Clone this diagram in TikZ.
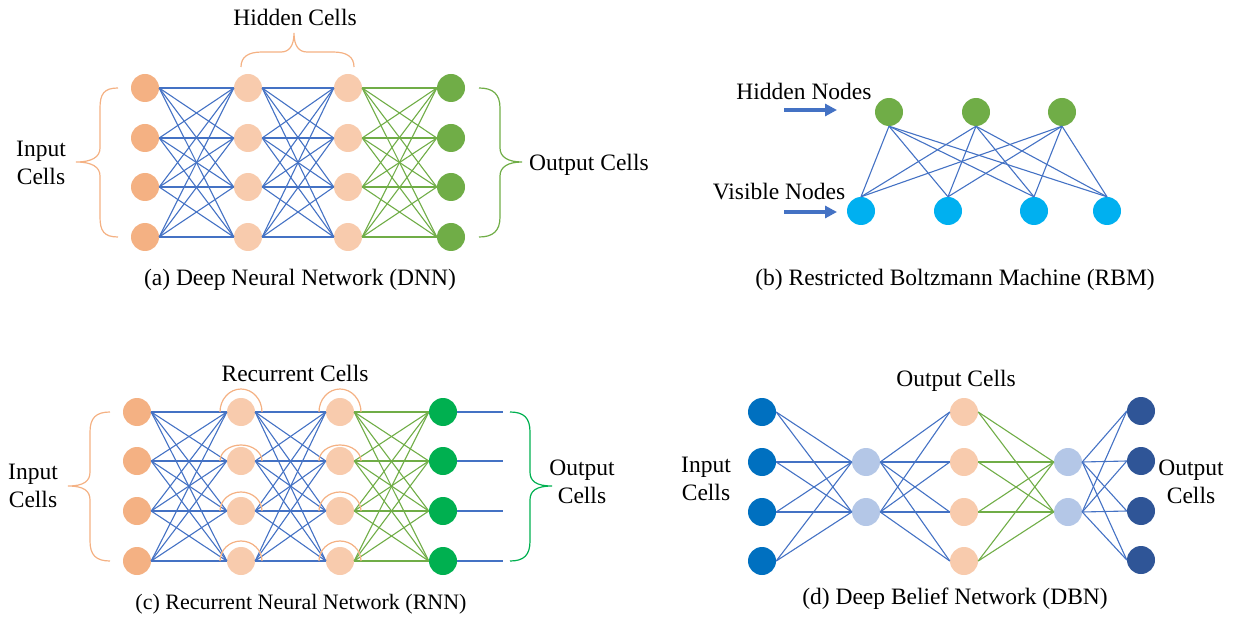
\documentclass[tikz,border=0pt]{standalone}
\usepackage{fontspec}
\setmainfont{Liberation Serif}
\usetikzlibrary{arrows.meta}

\definecolor{linkblue}{HTML}{4472C4}
\definecolor{linkgreen}{HTML}{70AD47}
\definecolor{inorange}{HTML}{F4B183}
\definecolor{peach}{HTML}{F8CBAD}
\definecolor{leafgreen}{HTML}{70AD47}
\definecolor{brightgreen}{HTML}{00B050}
\definecolor{skyblue}{HTML}{00B0F0}
\definecolor{midblue}{HTML}{0070C0}
\definecolor{paleblue}{HTML}{B4C7E7}
\definecolor{navy}{HTML}{2F5597}

\begin{document}
\begin{tikzpicture}[x=1pt,y=-1pt,
  every node/.style={font=\rmfamily\fontsize{23.5}{28}\selectfont, inner sep=0pt},
  cell/.style={circle, minimum size=28pt, draw=none},
  blink/.style={draw=linkblue, line width=1.1pt},
  glink/.style={draw=linkgreen, line width=1.1pt},
  curly/.style={line width=1.2pt},
  txt/.style={anchor=base},
  twoline/.style={align=center},
  selfloop/.style={draw=inorange, line width=1.2pt},
  pointer/.style={draw=linkblue, line width=3.6pt, -{Triangle[length=12pt,width=12pt]}}
]
\useasboundingbox (0,0) rectangle (1238,617);

% ---------------- (a) Deep Neural Network ----------------
\foreach \i/\y in {1/88,2/138,3/187,4/237}{
  \node[cell, fill=inorange]  (aI\i) at (145,\y) {};
  \node[cell, fill=peach]     (aH\i) at (248,\y) {};
  \node[cell, fill=peach]     (aK\i) at (348,\y) {};
  \node[cell, fill=leafgreen] (aO\i) at (451,\y) {};
}
\foreach \i in {1,...,4}{
  \foreach \j in {1,...,4}{
    \draw[blink] (aI\i.east) -- (aH\j.west);
    \draw[blink] (aH\i.east) -- (aK\j.west);
    \draw[glink] (aK\i.east) -- (aO\j.west);
  }
}
% braces
\draw[curly, draw=inorange] (118,88) .. controls (104,88) and (100,94) .. (100,108) -- (100,148)
  .. controls (100,157) and (92,162) .. (76,162) .. controls (92,162) and (100,167) .. (100,176)
  -- (100,217) .. controls (100,231) and (104,237) .. (118,237);
\draw[curly, draw=leafgreen] (479,88) .. controls (493,88) and (500,94) .. (500,108) -- (500,148)
  .. controls (500,157) and (508,162) .. (522,162) .. controls (508,162) and (500,167) .. (500,176)
  -- (500,217) .. controls (500,231) and (493,237) .. (479,237);
\draw[curly, draw=inorange] (241,67) .. controls (241,57) and (248,52) .. (262,52) -- (281,52)
  .. controls (289,52) and (294,46) .. (294,33) .. controls (294,46) and (299,52) .. (307,52)
  -- (333,52) .. controls (347,52) and (354,57) .. (354,67);
\node[txt] (aHid) at (295,26) {Hidden Cells};
\node[twoline] (aIn) at (41,163) {Input\\Cells};
\node[txt, anchor=base west] (aOut) at (529,171) {Output Cells};
\node[txt] (aCap) at (300,286) {(a) Deep Neural Network (DNN)};

% ---------------- (b) Restricted Boltzmann Machine ----------------
\foreach \i/\x in {1/889,2/976,3/1062}{
  \node[cell, fill=leafgreen] (bH\i) at (\x,112) {};
}
\foreach \i/\x in {1/861,2/948,3/1034,4/1107}{
  \node[cell, fill=skyblue] (bV\i) at (\x,211) {};
}
\foreach \i in {1,2,3}{
  \foreach \j in {1,...,4}{
    \draw[blink] (bH\i.south) -- (bV\j.north);
  }
}
\node[txt] (bHid) at (804,100) {Hidden Nodes};
\node[txt] (bVis) at (779,200) {Visible Nodes};
\coordinate (bA1) at (784,110);
\coordinate (bB1) at (837,110);
\coordinate (bA2) at (784,212);
\coordinate (bB2) at (837,212);
\draw[pointer] (bA1) -- (bB1);
\draw[pointer] (bA2) -- (bB2);
\node[txt] (bCap) at (955,286) {(b) Restricted Boltzmann Machine (RBM)};

% ---------------- (c) Recurrent Neural Network ----------------
\foreach \i/\y in {1/412,2/461,3/511,4/561}{
  \node[cell, fill=inorange]    (cI\i) at (137,\y) {};
  \node[cell, fill=peach]       (cH\i) at (241,\y) {};
  \node[cell, fill=peach]       (cK\i) at (340,\y) {};
  \node[cell, fill=brightgreen] (cO\i) at (443,\y) {};
  \coordinate (cE\i) at (503,\y);
}
\foreach \i in {1,...,4}{
  \foreach \j in {1,...,4}{
    \draw[blink] (cI\i.east) -- (cH\j.west);
    \draw[blink] (cH\i.east) -- (cK\j.west);
    \draw[glink] (cK\i.east) -- (cO\j.west);
  }
  \draw[blink] (cO\i.east) -- (cE\i);
}
% self-loops on the recurrent cells
\foreach \i/\h in {1/23,2/16,3/19,4/20}{
  \draw[selfloop] ([xshift=-21pt]cH\i.center) arc[start angle=180, end angle=0, x radius=21pt, y radius=\h pt];
  \draw[selfloop] ([xshift=-21pt]cK\i.center) arc[start angle=180, end angle=0, x radius=21pt, y radius=\h pt];
}
% braces
\draw[curly, draw=inorange] (110,412) .. controls (96,412) and (90,418) .. (90,432) -- (90,472)
  .. controls (90,481) and (84,486) .. (68,486) .. controls (84,486) and (90,491) .. (90,500)
  -- (90,541) .. controls (90,555) and (96,561) .. (110,561);
\draw[curly, draw=brightgreen] (510,412) .. controls (524,412) and (530,418) .. (530,432) -- (530,472)
  .. controls (530,481) and (536,486) .. (552,486) .. controls (536,486) and (530,491) .. (530,500)
  -- (530,541) .. controls (530,555) and (524,561) .. (510,561);
\node[txt] (cRec) at (295,381) {Recurrent Cells};
\node[twoline] (cIn) at (33,486) {Input\\Cells};
\node[twoline] (cOut) at (582,482) {Output\\Cells};
\node[txt, font=\rmfamily\fontsize{22}{26}\selectfont] (cCap) at (301,609) {(c) Recurrent Neural Network (RNN)};

% ---------------- (d) Deep Belief Network ----------------
\foreach \i/\y in {1/412,2/462,3/512,4/561}{
  \node[cell, fill=midblue] (dI\i) at (762,\y) {};
  \node[cell, fill=peach]   (dM\i) at (964,\y) {};
}
\foreach \i/\y in {1/411,2/461,3/511,4/560}{
  \node[cell, fill=navy] (dO\i) at (1141,\y) {};
}
\foreach \i/\y in {1/462,2/512}{
  \node[cell, fill=paleblue] (dH\i) at (866,\y) {};
  \node[cell, fill=paleblue] (dK\i) at (1068,\y) {};
}
\foreach \i in {1,...,4}{
  \foreach \j in {1,2}{
    \draw[blink] (dI\i.east) -- (dH\j.west);
    \draw[blink] (dH\j.east) -- (dM\i.west);
    \draw[glink] (dM\i.east) -- (dK\j.west);
    \draw[blink] (dK\j.east) -- (dO\i.west);
  }
}
\node[txt] (dOutTop) at (956,386) {Output Cells};
\node[twoline] (dIn) at (706,479) {Input\\Cells};
\node[twoline] (dOut) at (1191,482) {Output\\Cells};
\node[txt] (dCap) at (955,604) {(d) Deep Belief Network (DBN)};
\end{tikzpicture}
\end{document}
